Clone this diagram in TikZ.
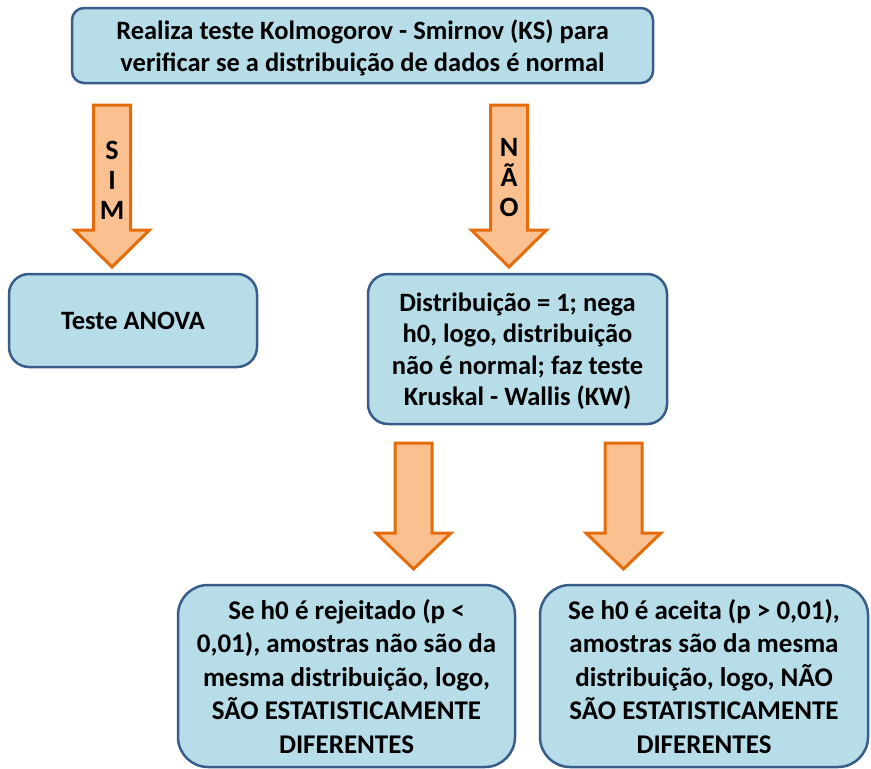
\documentclass[tikz,border=0pt]{standalone}
\usepackage{fontspec}
\setmainfont{Carlito}
\definecolor{boxfill}{HTML}{B7DDE8}
\definecolor{boxline}{HTML}{385D8A}
\definecolor{arrowfill}{HTML}{FAC090}
\definecolor{arrowline}{HTML}{E46C0A}
\tikzset{
  flowbox/.style={draw=boxline, fill=boxfill, line width=2.5pt, align=center, inner sep=0pt},
  boxfont/.style 2 args={font=\bfseries\fontsize{#1}{#2}\selectfont},
  downarrow/.style={draw=arrowline, fill=arrowfill, line width=3pt, line join=miter},
  arrowtext/.style={align=center, font=\bfseries\fontsize{28}{30}\selectfont}
}
\begin{document}
\begin{tikzpicture}[x=1pt,y=-1pt]
\useasboundingbox (0,0) rectangle (871,769);
% boxes
\node[flowbox, boxfont={26.5}{32}, text depth=-4pt, rounded corners=12pt, minimum width=581pt, minimum height=75pt] (ks) at (362.5,45.5)
  {Realiza teste Kolmogorov - Smirnov (KS) para\\verificar se a distribuição de dados é normal};
\node[flowbox, boxfont={26.5}{31}, rounded corners=20pt, minimum width=248pt, minimum height=93pt] (anova) at (133,320.5)
  {Teste ANOVA};
\node[flowbox, boxfont={26.5}{31.5}, text depth=-4pt, rounded corners=20pt, minimum width=299pt, minimum height=150pt] (kw) at (517.5,349)
  {Distribuição = 1; nega\\h0, logo, distribuição\\não é normal; faz teste\\Kruskal - Wallis (KW)};
\node[flowbox, boxfont={27}{33.5}, text depth=0pt, rounded corners=30pt, minimum width=337pt, minimum height=182pt] (rej) at (346.5,676)
  {Se h0 é rejeitado (p <\\0,01), amostras não são da\\mesma distribuição, logo,\\SÃO ESTATISTICAMENTE\\DIFERENTES};
\node[flowbox, boxfont={27}{33.5}, text depth=0pt, rounded corners=30pt, minimum width=328pt, minimum height=182pt] (ace) at (704,676)
  {Se h0 é aceita (p > 0,01),\\amostras são da mesma\\distribuição, logo, NÃO\\SÃO ESTATISTICAMENTE\\DIFERENTES};
% block arrows: x/top/head/tip
\foreach \x/\t/\h/\e in {112/105/230/267, 509/105/230/267, 413.5/443/533/569, 623.5/443/533/569}
  \draw[downarrow] (\x-18.5,\t) -- (\x+18.5,\t) -- (\x+18.5,\h) -- (\x+37.5,\h) -- (\x,\e) -- (\x-37.5,\h) -- (\x-18.5,\h) -- cycle;
\node[arrowtext] (sim) at (112,180) {S\\I\\M};
\node[arrowtext] (nao) at (509,178) {N\\Ã\\O};
\end{tikzpicture}
\end{document}
